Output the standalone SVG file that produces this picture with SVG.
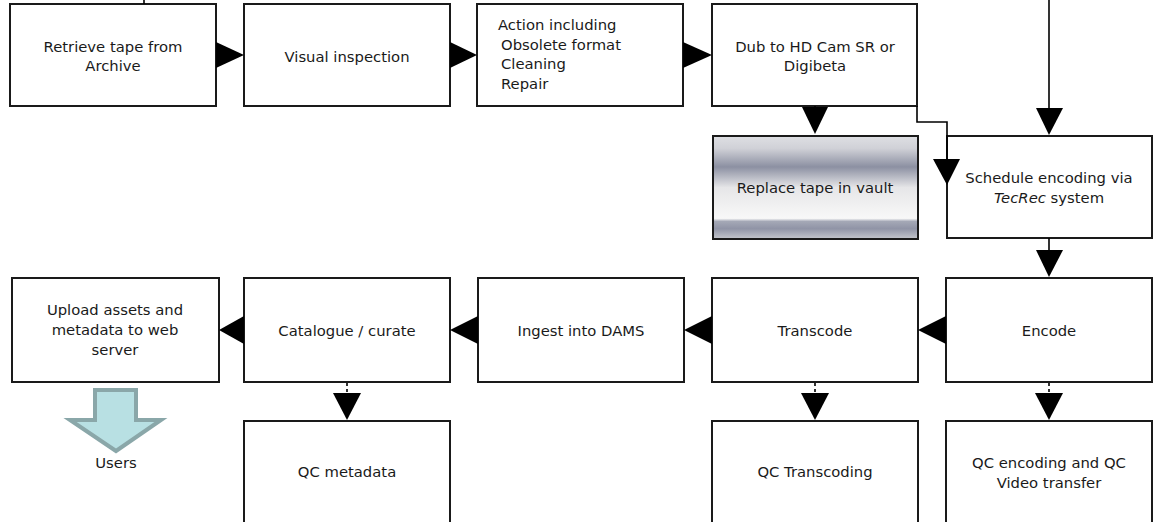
<svg xmlns="http://www.w3.org/2000/svg" width="1161" height="522" viewBox="0 0 1161 522">
<defs>
<linearGradient id="chrome" x1="0" y1="0" x2="0" y2="1">
<stop offset="0" stop-color="#dedfe3"/>
<stop offset="0.12" stop-color="#d0d1d7"/>
<stop offset="0.3" stop-color="#8c90a2"/>
<stop offset="0.5" stop-color="#e6e6e8"/>
<stop offset="0.8" stop-color="#f8f8f8"/>
<stop offset="0.83" stop-color="#a4a8b6"/>
<stop offset="0.9" stop-color="#9094a6"/>
<stop offset="1" stop-color="#c4c6cc"/>
</linearGradient>
</defs>
<style>
.box{fill:#ffffff;stroke:#1a1a1a;stroke-width:2}
.t{font-family:"DejaVu Sans",sans-serif;font-size:14.8px;fill:#1a1a1a;text-anchor:middle}
.tl{font-family:"DejaVu Sans",sans-serif;font-size:14.8px;fill:#1a1a1a}
.ln{fill:none;stroke:#000;stroke-width:1.6}
.dash{fill:none;stroke:#000;stroke-width:1.6;stroke-dasharray:3 3}
.ah{fill:#000;stroke:none}
</style>
<rect width="1161" height="522" fill="#ffffff"/>

<g id="n1"><rect class="box" x="10" y="4" width="206" height="102"/>
<text class="t" x="113" y="52">Retrieve tape from</text><text class="t" x="113" y="71">Archive</text></g>

<g id="n2"><rect class="box" x="244" y="4" width="206" height="102"/>
<text class="t" x="347" y="62">Visual inspection</text></g>

<g id="n3"><rect class="box" x="477" y="4" width="206" height="102"/>
<text class="tl" x="498" y="30">Action including</text>
<text class="tl" x="501" y="50">Obsolete format</text>
<text class="tl" x="501" y="69">Cleaning</text>
<text class="tl" x="501" y="89">Repair</text></g>

<g id="n4"><rect class="box" x="712" y="4" width="205" height="102"/>
<text class="t" x="815" y="52">Dub to HD Cam SR or</text><text class="t" x="815" y="71">Digibeta</text></g>

<g id="n5"><rect x="713" y="136" width="205" height="103" fill="url(#chrome)" stroke="#1a1a1a" stroke-width="2"/>
<text class="t" x="815" y="193">Replace tape in vault</text></g>

<g id="n6"><rect class="box" x="947" y="136" width="205" height="102"/>
<text class="t" x="1049" y="183">Schedule encoding via</text>
<text class="t" x="1049" y="203"><tspan font-style="italic">TecRec</tspan> system</text></g>

<g id="n7"><rect class="box" x="946" y="278" width="206" height="104"/>
<text class="t" x="1049" y="336">Encode</text></g>

<g id="n8"><rect class="box" x="712" y="278" width="206" height="104"/>
<text class="t" x="815" y="336">Transcode</text></g>

<g id="n9"><rect class="box" x="478" y="278" width="206" height="104"/>
<text class="t" x="581" y="336">Ingest into DAMS</text></g>

<g id="n10"><rect class="box" x="244" y="278" width="206" height="104"/>
<text class="t" x="347" y="336">Catalogue / curate</text></g>

<g id="n11"><rect class="box" x="12" y="278" width="207" height="104"/>
<text class="t" x="115" y="315">Upload assets and</text>
<text class="t" x="115" y="335">metadata to web</text>
<text class="t" x="115" y="355">server</text></g>

<g id="n12"><rect class="box" x="244" y="421" width="206" height="110"/>
<text class="t" x="347" y="477">QC metadata</text></g>

<g id="n13"><rect class="box" x="712" y="421" width="206" height="110"/>
<text class="t" x="815" y="477">QC Transcoding</text></g>

<g id="n14"><rect class="box" x="946" y="421" width="206" height="110"/>
<text class="t" x="1049" y="468">QC encoding and QC</text>
<text class="t" x="1049" y="488">Video transfer</text></g>

<g id="n15"><path d="M95,390 H136 V420 H161 L116,451 L70,420 H95 Z" fill="#b8e0e3" stroke="#8aa7a9" stroke-width="4" stroke-linejoin="miter"/>
<text class="t" x="116" y="468">Users</text></g>

<g id="connectors">
<path class="ln" d="M144,0 V4" stroke-width="2"/>
<path class="ah" d="M216,42 L244,55 L216,68 Z"/>
<path class="ah" d="M450,42 L477,55 L450,68 Z"/>
<path class="ah" d="M683,42 L712,55 L683,68 Z"/>
<path class="ln" d="M815,106 V108"/>
<path class="ah" d="M802,107 L828,107 L815,134 Z"/>
<path class="ln" d="M917,106 V122 H947 V160"/>
<path class="ah" d="M933,159 L960,159 L947,185 Z"/>
<path class="ln" d="M1049,0 V109"/>
<path class="ah" d="M1036,108 L1063,108 L1049,135 Z"/>
<path class="ln" d="M1049,238 V251"/>
<path class="ah" d="M1036,250 L1063,250 L1049,277 Z"/>
<path class="ah" d="M946,316 L918,330 L946,344 Z"/>
<path class="ah" d="M712,316 L684,330 L712,344 Z"/>
<path class="ah" d="M478,316 L450,330 L478,344 Z"/>
<path class="ah" d="M244,316 L219,330 L244,344 Z"/>
<path class="dash" d="M347,383 V394"/>
<path class="ah" d="M333,393 L361,393 L347,420 Z"/>
<path class="dash" d="M815,383 V394"/>
<path class="ah" d="M801,393 L829,393 L815,420 Z"/>
<path class="dash" d="M1049,383 V394"/>
<path class="ah" d="M1035,393 L1063,393 L1049,420 Z"/>
</g>
</svg>
